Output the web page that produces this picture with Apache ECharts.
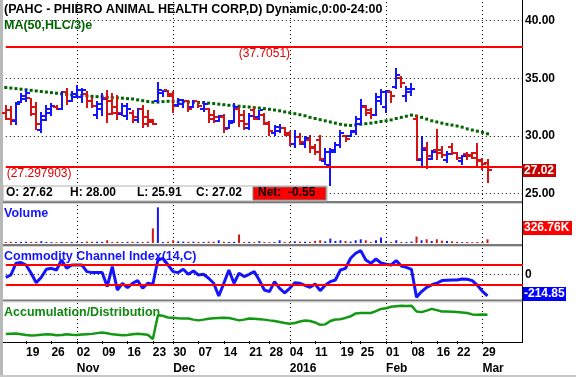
<!DOCTYPE html>
<html><head><meta charset="utf-8">
<script src="https://cdn.jsdelivr.net/npm/echarts@6/dist/echarts.min.js"></script>
<style>html,body{margin:0;padding:0;background:#fff;overflow:hidden}#c{width:576px;height:377px}</style>
</head><body><div id="c"></div>
<script>
// ---------- data ----------
const dates = [
 '2015-10-13','2015-10-14','2015-10-15','2015-10-16','2015-10-19','2015-10-20','2015-10-21','2015-10-22','2015-10-23','2015-10-26','2015-10-27','2015-10-28','2015-10-29','2015-10-30',
 '2015-11-02','2015-11-03','2015-11-04','2015-11-05','2015-11-06','2015-11-09','2015-11-10','2015-11-11','2015-11-12','2015-11-13','2015-11-16','2015-11-17','2015-11-18','2015-11-19','2015-11-20','2015-11-23','2015-11-24','2015-11-25','2015-11-27','2015-11-30',
 '2015-12-01','2015-12-02','2015-12-03','2015-12-04','2015-12-07','2015-12-08','2015-12-09','2015-12-10','2015-12-11','2015-12-14','2015-12-15','2015-12-16','2015-12-17','2015-12-18','2015-12-21','2015-12-22','2015-12-23','2015-12-24','2015-12-28','2015-12-29','2015-12-30','2015-12-31',
 '2016-01-04','2016-01-05','2016-01-06','2016-01-07','2016-01-08','2016-01-11','2016-01-12','2016-01-13','2016-01-14','2016-01-15','2016-01-19','2016-01-20','2016-01-21','2016-01-22','2016-01-25','2016-01-26','2016-01-27','2016-01-28','2016-01-29',
 '2016-02-01','2016-02-02','2016-02-03','2016-02-04','2016-02-05','2016-02-08','2016-02-09','2016-02-10','2016-02-11','2016-02-12','2016-02-16','2016-02-17','2016-02-18','2016-02-19','2016-02-22','2016-02-23','2016-02-24','2016-02-25','2016-02-26','2016-02-29',
 '2016-03-01'
];
const opens  = [32.0,32.2,31.3,32.9,33.2,33.3,32.5,30.5,31.4,32.0,32.5,32.3,33.8,33.0,33.4,33.4,33.6,33.0,31.8,32.3,33.3,33.0,32.5,31.9,31.7,32.0,31.4,32.3,31.6,31.4,33.0,33.7,34.0,33.5,32.7,32.8,33.0,32.5,33.0,32.3,32.3,31.8,31.3,31.6,30.7,31.3,32.3,31.8,30.7,32.2,31.6,31.8,31.0,30.2,30.4,30.7,30.1,29.3,29.9,29.3,29.6,29.0,29.6,27.8,27.5,28.8,29.2,30.0,30.0,30.3,31.0,32.5,32.2,31.8,33.0,32.5,33.8,34.2,35.0,33.5,33.8,31.5,27.9,28.9,28.0,28.8,28.8,27.9,29.0,28.5,27.8,28.4,28.3,28.5,27.9,27.62];
const highs  = [32.7,32.6,32.9,33.7,34.1,33.3,32.9,32.1,32.7,32.85,32.7,33.85,34.15,33.9,34.4,34.15,33.85,33.4,33.0,33.7,34.0,33.7,33.55,32.85,32.85,32.26,32.4,32.7,32.26,31.5,34.7,34.0,34.0,33.85,33.3,33.2,33.1,33.1,33.0,33.0,32.4,32.26,31.8,31.9,31.4,32.85,32.5,32.26,32.0,32.5,32.26,32.0,31.25,30.95,31.0,30.8,30.38,30.52,30.2,29.94,30.1,29.3,30.1,28.93,28.93,29.5,30.5,30.1,30.5,31.7,33.2,32.7,32.4,33.7,34.1,34.0,33.86,35.88,35.22,34.3,34.58,31.83,29.94,29.5,28.8,30.6,29.1,28.7,29.36,28.6,28.35,28.6,28.6,29.36,28.1,28.0];
const lows   = [31.4,30.9,30.9,32.85,32.9,31.7,30.5,30.2,31.25,31.7,32.26,32.26,32.7,32.9,33.3,32.85,32.4,32.4,31.5,31.7,31.1,31.8,31.4,31.7,31.4,31.1,31.1,30.7,30.8,30.95,32.85,33.4,33.4,32.0,32.5,32.4,32.1,32.4,32.4,32.1,31.1,31.1,31.2,30.2,30.6,31.1,30.8,30.5,30.5,31.4,31.4,30.9,29.95,29.95,30.2,29.95,29.07,28.93,29.2,28.93,28.5,28.35,27.77,27.48,25.65,28.5,28.93,29.5,29.9,30.1,30.9,31.7,31.5,31.7,32.7,32.0,32.84,34.06,34.14,32.9,33.48,27.77,27.3,27.1,27.9,27.9,28.1,27.6,28.35,27.9,27.5,27.9,28.0,27.33,27.0,25.91];
const closes = [31.5,31.4,32.8,33.5,33.7,31.9,31.0,31.7,32.3,32.6,32.3,33.8,33.0,33.6,34.0,34.0,33.0,32.6,32.8,33.2,31.9,32.0,32.0,32.6,32.3,31.6,32.3,31.0,31.2,31.0,34.0,33.9,33.6,32.6,33.1,33.0,32.3,33.0,32.6,32.8,31.5,31.6,31.7,30.6,31.1,32.5,31.3,31.0,31.7,31.5,32.2,31.1,30.4,30.8,30.7,30.2,29.3,29.9,29.5,29.8,28.9,28.6,28.0,28.6,28.6,29.2,30.2,29.7,30.4,31.5,32.6,32.0,31.8,33.4,33.8,33.9,33.5,35.3,34.6,34.1,34.1,28.0,28.8,28.2,28.6,28.5,28.3,28.4,28.5,28.1,28.2,28.2,28.1,27.8,27.57,27.02];
const ma50   = [34.2,34.15,34.1,34.05,34.0,33.95,33.9,33.85,33.8,33.75,33.7,33.65,33.6,33.55,33.52,33.5,33.47,33.43,33.4,33.38,33.35,33.32,33.3,33.27,33.23,33.2,33.12,33.05,32.98,32.92,32.93,32.97,33.0,32.98,32.96,32.95,32.93,32.92,32.9,32.88,32.84,32.8,32.75,32.7,32.65,32.6,32.57,32.53,32.5,32.45,32.41,32.36,32.3,32.24,32.17,32.08,32.0,31.92,31.83,31.74,31.6,31.5,31.4,31.3,31.2,31.1,31.0,30.93,30.9,30.94,31.0,31.05,31.1,31.17,31.24,31.3,31.38,31.5,31.6,31.7,31.8,31.72,31.6,31.45,31.3,31.2,31.1,31.0,30.93,30.85,30.75,30.6,30.5,30.4,30.3,30.17];
const volumesK = [90,110,80,100,110,90,110,160,90,80,70,90,80,90,80,90,120,120,110,100,240,90,110,80,100,110,100,90,120,1290,3150,80,110,240,150,120,100,120,90,100,120,120,240,110,90,100,750,90,100,80,160,90,80,90,240,100,90,150,120,110,100,180,240,150,390,180,240,180,120,240,330,240,90,240,480,150,90,240,90,80,130,570,240,330,180,330,210,180,150,100,80,90,80,90,100,326.76];
const cci = [-30,-7,110,117,93,10,-84,-30,50,60,43,143,60,93,93,93,27,17,17,17,-123,77,-157,-90,-133,-90,-63,-140,-90,-100,143,160,93,27,17,50,0,33,-7,0,-40,-90,-217,-90,43,-90,10,-23,0,27,-60,-157,-173,-73,-140,-185,-140,-84,-90,-110,-130,-97,-163,-110,-73,-57,43,60,160,210,237,143,110,153,113,100,93,137,83,70,50,-230,-173,-130,-105,-90,-63,-60,-57,-57,-47,-50,-63,-110,-170,-214.85];
const adLine = [730,760,780,700,620,580,600,660,700,680,600,620,700,650,620,680,720,750,830,900,820,700,650,600,620,700,760,720,650,220,2700,2650,2480,2450,2400,2380,2370,2250,2170,2250,2350,2400,2430,2450,2430,2300,2170,2250,2370,2350,2300,2250,2170,2100,2000,1900,1820,1900,2050,2150,2100,1950,1700,1750,2100,2260,2300,2430,2600,2900,2940,2950,2950,3150,3380,3450,3600,3650,3700,3680,3720,3100,3040,3200,3380,3250,3100,3100,3080,3040,3000,2940,2800,2770,2780,2770];
const tickDates = ['2015-10-19','2015-10-26','2015-11-02','2015-11-09','2015-11-16','2015-11-23','2015-11-30','2015-12-07','2015-12-14','2015-12-21','2015-12-28','2016-01-04','2016-01-11','2016-01-19','2016-01-25','2016-02-01','2016-02-08','2016-02-16','2016-02-22','2016-02-29'];
const monthLabels = {'2015-11-02':'Nov','2015-11-30':'Dec','2016-01-04':'2016','2016-02-01':'Feb','2016-02-29':'Mar'};
const priceLevels = [25,30,35,40];
const resistance = 37.7051, support = 27.297903;
const lastClose = 27.02, lastVolLabel = '326.76K', lastCci = -214.85;
const padCount = 7;

// ---------- build ----------
const cats = dates.concat(Array.from({length: padCount}, (_, k) => 'pad' + k));
const tickSet = new Set(tickDates);
const monthSet = new Set(Object.keys(monthLabels));
const RED = '#d41414', BLUE = '#1414ff';
const FONT = '"Liberation Sans", Arial, sans-serif';

function xAx(gi, bottom) {
  return {
    type: 'category', gridIndex: gi, data: cats, boundaryGap: false,
    axisLine: {show: false},
    axisTick: bottom ? {show: true, interval: (i, v) => tickSet.has(v), length: 3, lineStyle: {color: '#000'}} : {show: false},
    axisLabel: bottom ? {
      show: true, interval: (i, v) => tickSet.has(v),
      formatter: v => { if (!tickSet.has(v)) return ''; const d = v.slice(8); const m = monthLabels[v]; return m ? d + '\n' + m : d; },
      align: 'left', margin: 4, fontSize: 12, fontWeight: 'bold', fontFamily: FONT, color: '#000', lineHeight: 16
    } : {show: false},
    splitLine: {show: true, interval: (i, v) => monthSet.has(v), lineStyle: {color: '#000', type: [1, 3], width: 1}}
  };
}

const grids = [
  {left: 5.8, right: 53, top: 2, height: 199},
  {left: 5.8, right: 53, top: 205, height: 38},
  {left: 5.8, right: 53, top: 248, height: 51},
  {left: 5.8, right: 53, top: 303, height: 40}
];

const priceData = dates.map((d, i) => [i, opens[i], highs[i], lows[i], closes[i]]);
const volData = volumesK.map((v, i) => ({value: v, itemStyle: {color: closes[i] >= opens[i] ? BLUE : RED}}));

const priceMarks = priceLevels.map(v => ({
  yAxis: v, lineStyle: {color: '#000', type: [1, 3], width: 1},
  label: {show: true, position: 'end', distance: 2, formatter: v.toFixed(2), color: '#000', fontSize: 12, fontWeight: 'bold', fontFamily: FONT}
})).concat([
  {yAxis: resistance, lineStyle: {color: '#ff0000', width: 2, type: 'solid'},
   label: {show: true, position: 'insideMiddleBottom', distance: 1, formatter: '(' + resistance + ')', color: '#e00000', fontSize: 12, fontFamily: FONT}},
  {yAxis: support, lineStyle: {color: '#ff0000', width: 2, type: 'solid'},
   label: {show: true, position: 'insideStartBottom', distance: 1, formatter: '(' + support + ')', color: '#e00000', fontSize: 12, fontFamily: FONT}}
]);

const txt = (id, x, y, text, fill, font, z) => ({id, type: 'text', x, y, z: z || 60, silent: true, style: {text, fill, font}});
const box = (id, x, y, w, h, fill, extra) => Object.assign({id, type: 'rect', silent: true, shape: {x, y, width: w, height: h}, style: {fill}}, extra || {});

const option = {
  animation: false,
  backgroundColor: '#fff',
  grid: grids,
  xAxis: [xAx(0, false), xAx(1, false), xAx(2, false), xAx(3, true)],
  yAxis: [
    {gridIndex: 0, type: 'value', min: 24.33, max: 41.63, show: false},
    {gridIndex: 1, type: 'value', min: 0, max: 3360, show: false},
    {gridIndex: 2, type: 'value', min: -247, max: 263, show: false},
    {gridIndex: 3, type: 'value', min: 0, max: 4000, show: false}
  ],
  series: [
    {type: 'line', xAxisIndex: 0, yAxisIndex: 0, data: ma50, symbol: 'rect', symbolSize: 3, showSymbol: true, showAllSymbol: true,
     lineStyle: {width: 0, opacity: 0}, itemStyle: {color: '#006400'}, z: 2, silent: true,
     markLine: {symbol: 'none', silent: true, animation: false, data: priceMarks}},
    {type: 'custom', xAxisIndex: 0, yAxisIndex: 0, data: priceData, z: 3, silent: true,
     encode: {x: 0, y: [1, 2, 3, 4]},
     renderItem: (params, api) => {
       const i = api.value(0), o = api.value(1), h = api.value(2), l = api.value(3), c = api.value(4);
       const pH = api.coord([i, h]), pL = api.coord([i, l]), pO = api.coord([i, o]), pC = api.coord([i, c]);
       const col = c >= o ? BLUE : RED;
       const x = Math.round(pH[0]);
       return {type: 'group', children: [
         {type: 'rect', shape: {x: x - 1, y: Math.round(pH[1]), width: 2, height: Math.max(2, Math.round(pL[1]) - Math.round(pH[1]))}, style: {fill: col}},
         {type: 'rect', shape: {x: x - 4, y: Math.round(pO[1]) - 1, width: 3, height: 2}, style: {fill: col}},
         {type: 'rect', shape: {x: x + 1, y: Math.round(pC[1]) - 1, width: 3, height: 2}, style: {fill: col}}
       ]};
     }},
    {type: 'bar', xAxisIndex: 1, yAxisIndex: 1, data: volData, barWidth: 2, clip: false, silent: true},
    {type: 'line', xAxisIndex: 2, yAxisIndex: 2, data: cci, symbol: 'none', lineStyle: {color: BLUE, width: 3}, silent: true, z: 3,
     markLine: {symbol: 'none', silent: true, animation: false, data: [
       {yAxis: 100, lineStyle: {color: '#ff0000', width: 2, type: 'solid'}, label: {show: false}},
       {yAxis: -100, lineStyle: {color: '#ff0000', width: 2, type: 'solid'}, label: {show: false}},
       {yAxis: 0, lineStyle: {color: '#000', width: 1, type: [1, 3]}, label: {show: true, position: 'end', distance: 2, formatter: '0', color: '#000', fontSize: 12, fontWeight: 'bold', fontFamily: FONT}}
     ]}},
    {type: 'line', xAxisIndex: 3, yAxisIndex: 3, data: adLine, symbol: 'none', lineStyle: {color: '#119911', width: 2.5}, silent: true}
  ],
  graphic: {elements: [
    box('bl', 0, 0, 3, 377, '#b8b8b8'),
    box('bb', 0, 375, 576, 2, '#c8c8c8'),
    box('s1a', 3, 201, 520, 2, '#7a7a7a'), box('s1b', 3, 203, 520, 1, '#d4d4d4'),
    box('s2a', 3, 244, 520, 2, '#7a7a7a'), box('s2b', 3, 246, 520, 1, '#d4d4d4'),
    box('s3a', 3, 299.5, 520, 2, '#7a7a7a'), box('s3b', 3, 301.5, 520, 1, '#d4d4d4'),
    {id: 'ax1', type: 'line', silent: true, shape: {x1: 522.5, y1: 0, x2: 522.5, y2: 343}, style: {stroke: '#000', lineWidth: 1}},
    {id: 'ax2', type: 'line', silent: true, shape: {x1: 3, y1: 342.5, x2: 523, y2: 342.5}, style: {stroke: '#000', lineWidth: 1}},
    txt('t1', 4, 3, '(PAHC - PHIBRO ANIMAL HEALTH CORP,D) Dynamic,0:00-24:00', '#000', 'bold 12.5px ' + FONT),
    txt('t2', 4, 19, 'MA(50,HLC/3)e', '#006400', 'bold 12.5px ' + FONT),
    box('ib', 3, 186, 324, 15, '#fff', {z: 50, style: {fill: '#fff', stroke: '#b0b0b0', lineWidth: 1}}),
    txt('o', 6, 187, 'O: 27.62', '#000', 'bold 12px ' + FONT, 51),
    txt('h', 70, 187, 'H: 28.00', '#000', 'bold 12px ' + FONT, 51),
    txt('l', 137, 187, 'L: 25.91', '#000', 'bold 12px ' + FONT, 51),
    txt('c', 196, 187, 'C: 27.02', '#000', 'bold 12px ' + FONT, 51),
    box('nb', 253, 187, 73, 13, '#ff0000', {z: 51, style: {fill: '#ff0000', stroke: '#808080', lineWidth: 1}}),
    txt('n', 258, 187, 'Net:  -0.55', '#000', 'bold 12px ' + FONT, 52),
    txt('pv', 4, 207, 'Volume', '#1414ff', 'bold 12.5px ' + FONT),
    txt('pc', 4, 250, 'Commodity Channel Index(14,C)', '#1414ff', 'bold 12.5px ' + FONT),
    txt('pa', 4, 306, 'Accumulation/Distribution', '#118811', 'bold 12.5px ' + FONT),
    box('vt', 523, 221, 49, 14, '#ff0000'),
    txt('vtt', 524, 222, lastVolLabel, '#fff', 'bold 12px ' + FONT)
  ]}
};

const chart = echarts.init(document.getElementById('c'), null, {renderer: 'canvas'});
chart.setOption(option);

// value tags placed through the axes' own scales
const pClose = chart.convertToPixel({xAxisIndex: 0, yAxisIndex: 0}, [0, lastClose]);
const pCci = chart.convertToPixel({xAxisIndex: 2, yAxisIndex: 2}, [0, lastCci]);
chart.setOption({graphic: {elements: [
  box('ct', 523, Math.round(pClose[1]) - 6, 33, 13, '#c80000', {z: 70}),
  txt('ctt', 524, Math.round(pClose[1]) - 5, lastClose.toFixed(2), '#fff', 'bold 12px ' + FONT, 71),
  box('cct', 523, Math.round(pCci[1]) - 9, 43, 14, '#0000ff', {z: 70}),
  txt('cctt', 524, Math.round(pCci[1]) - 8, String(lastCci), '#fff', 'bold 12px ' + FONT, 71)
]}});
</script>
</body></html>
